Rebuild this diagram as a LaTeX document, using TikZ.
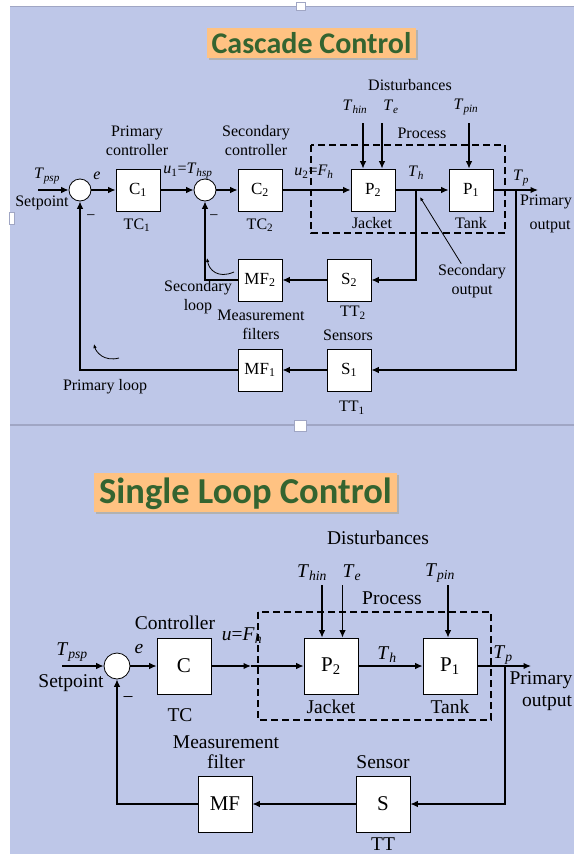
\documentclass[tikz,border=0pt]{standalone}
\usepackage{fontspec}
\usetikzlibrary{arrows.meta}
\setmainfont{Liberation Serif}
\newfontfamily\titlefont{Carlito}
\definecolor{slideblue}{RGB}{190,199,232}
\definecolor{slideline}{RGB}{160,166,196}
\definecolor{titlefill}{RGB}{255,194,130}
\definecolor{titletext}{RGB}{52,100,48}
\newcommand{\sig}[2]{\textit{#1}\textsubscript{\textit{#2}}}
\begin{document}
\begin{tikzpicture}[x=1pt,y=-1pt,>={Latex[length=7.5pt,width=6.5pt]},line width=1.2pt]
\tikzset{BlockStyle/.style = {draw,fill=white,line width=0.8pt,minimum width=44pt,minimum height=42pt,inner sep=0pt,font=\fontsize{17}{20}\selectfont},
  BigBlockStyle/.style = {BlockStyle,minimum width=54pt,minimum height=56pt,font=\fontsize{21}{24}\selectfont},
  SumStyle/.style = {draw,circle,fill=white,line width=0.8pt,minimum size=22pt,inner sep=0pt},
  LabelStyle/.style = {inner sep=0pt,align=center,font=\fontsize{16}{19}\selectfont},
  BigLabelStyle/.style = {inner sep=0pt,align=center,font=\fontsize{19.5}{20}\selectfont},
  DashStyle/.style = {dash pattern=on 7pt off 4pt,line width=2pt},
  HookStyle/.style = {line width=0.8pt,>={Latex[length=4pt,width=3.5pt]}}}
\useasboundingbox (0,0) rectangle (574,854);
% slides
\fill[white] (0,0) rectangle (574,854);
\fill[slideblue] (10,7) rectangle (574,424);
\fill[slideblue] (10,426) rectangle (574,854);
\draw[slideline,line width=1.5pt] (10,6.5) -- (574,6.5);
\draw[slideline,line width=1.5pt] (10,425) -- (574,425);
\filldraw[fill=white,draw=slideline,line width=0.6pt] (296,2) rectangle (305,10);
\filldraw[fill=white,draw=slideline,line width=0.6pt] (294,420) rectangle (306,431);
\filldraw[fill=white,draw=slideline,line width=0.6pt] (9,212) rectangle (14,224);

% cascade control
\fill[black!30] (209,30) rectangle (418,60);
\fill[titlefill] (207,28) rectangle (416,58);
\node[anchor=base,inner sep=0pt,text=titletext,font=\titlefont\bfseries\fontsize{30}{30}\selectfont] (t1) at (311.5,53) {Cascade Control};
\coordinate (in1) at (38,190);
\node[SumStyle] (s1) at (80,190) {};
\node[BlockStyle] (c1) at (138,190) {C\textsubscript{1}};
\node[SumStyle] (s2) at (205,190) {};
\node[BlockStyle] (c2) at (260,190) {C\textsubscript{2}};
\node[BlockStyle] (p2) at (373,190) {P\textsubscript{2}};
\node[BlockStyle] (p1) at (471,190) {P\textsubscript{1}};
\coordinate (th1) at (416,190); \coordinate (bp1) at (516,190); \coordinate (out1) at (538,190);
\node[BlockStyle] (mf2) at (260,280) {MF\textsubscript{2}};
\node[BlockStyle] (se2) at (349,280) {S\textsubscript{2}};
\node[BlockStyle] (mf1) at (260,370) {MF\textsubscript{1}};
\node[BlockStyle] (se1) at (349,370) {S\textsubscript{1}};
\coordinate (d1) at (363,123); \coordinate (d2) at (382,123); \coordinate (d3) at (469,123);
\draw[->] (in1) -- (s1);
\draw[->] (s1) -- (c1);
\draw[->] (c1) -- (s2);
\draw[->] (s2) -- (c2);
\draw[->] (c2) -- (p2);
\draw[->] (p2) -- (p1);
\draw[->] (p1) -- (out1);
\draw[->] (th1) |- (se2);
\draw[->] (se2) -- (mf2);
\draw[->] (mf2) -| (s2);
\draw[->] (bp1) |- (se1);
\draw[->] (se1) -- (mf1);
\draw[->] (mf1) -| (s1);
\draw[->] (d1) -- (d1 |- p2.north);
\draw[->] (d2) -- (d2 |- p2.north);
\draw[->] (d3) -- (d3 |- p1.north);
\draw[DashStyle] (311,145) rectangle (505,233);
\node[LabelStyle] at (410,85) {Disturbances};
\node[LabelStyle] at (355,107) {\sig{T}{hin}};
\node[LabelStyle] at (391,107) {\sig{T}{e}};
\node[LabelStyle] at (466,107) {\sig{T}{pin}};
\node[LabelStyle] at (422,133) {Process};
\node[LabelStyle] at (137,141) {Primary\\controller};
\node[LabelStyle] at (256,141) {Secondary\\controller};
\node[LabelStyle] at (47,176) {\sig{T}{psp}};
\node[LabelStyle] at (97,176) {\textit{e}};
\node[LabelStyle] at (42,203) {Setpoint};
\node[LabelStyle] at (188,171) {\textit{u}\textsubscript{1}=\sig{T}{hsp}};
\node[LabelStyle] at (314,172) {\textit{u}\textsubscript{2}=\sig{F}{h}};
\node[LabelStyle] at (416,173) {\sig{T}{h}};
\node[LabelStyle] at (521,178) {\sig{T}{p}};
\node[LabelStyle] at (546,202) {Primary};
\node[LabelStyle] at (550,227) {output};
\node[LabelStyle] at (372,223) {Jacket};
\node[LabelStyle] at (471,223) {Tank};
\node[LabelStyle] at (137,225) {TC\textsubscript{1}};
\node[LabelStyle] at (260,225) {TC\textsubscript{2}};
\node[LabelStyle] at (91,218) {−};
\node[LabelStyle] at (214,218) {−};
\node[LabelStyle] (so) at (472,281) {Secondary\\output};
\coordinate (th2) at (420,197);
\draw[->,HookStyle] (so) -- (th2);
\node[LabelStyle] at (198,297) {Secondary\\loop};
\node[LabelStyle] at (261,325) {Measurement\\filters};
\node[LabelStyle] at (353,313) {TT\textsubscript{2}};
\node[LabelStyle] at (348,335) {Sensors};
\node[LabelStyle] at (105,387) {Primary loop};
\node[LabelStyle] at (352,408) {TT\textsubscript{1}};
\coordinate (hl1) at (234,272); \coordinate (hl2) at (207,258);
\draw[->,HookStyle] (hl1) .. controls (218,279) and (209,270) .. (hl2);
\coordinate (hl3) at (119,358); \coordinate (hl4) at (94,344);
\draw[->,HookStyle] (hl3) .. controls (104,362) and (96,352) .. (hl4);

% single loop control
\fill[black!30] (96,475) rectangle (399,514);
\fill[titlefill] (94,473) rectangle (397,512);
\node[anchor=base,inner sep=0pt,text=titletext,font=\titlefont\bfseries\fontsize{36.5}{36.5}\selectfont] (t2) at (245.5,503) {Single Loop Control};
\coordinate (in2) at (62,666);
\node[SumStyle,minimum size=26pt] (s3) at (117,666) {};
\node[BigBlockStyle] (c3) at (184,666) {C};
\coordinate (um) at (251,666);
\node[BigBlockStyle] (p4) at (331,666) {P\textsubscript{2}};
\node[BigBlockStyle] (p3) at (450,666) {P\textsubscript{1}};
\coordinate (bp2) at (505,666); \coordinate (out2) at (531,666);
\node[BigBlockStyle] (mf3) at (225,804) {MF};
\node[BigBlockStyle] (se3) at (383,804) {S};
\coordinate (d4) at (322,585); \coordinate (d5) at (342.5,585); \coordinate (d6) at (448,585);
\draw[->] (in2) -- (s3);
\draw[->] (s3) -- (c3);
\draw[->] (c3) -- (um);
\draw[->] (um) -- (p4);
\draw[->] (p4) -- (p3);
\draw[->] (p3) -- (out2);
\draw[->] (bp2) |- (se3);
\draw[->] (se3) -- (mf3);
\draw[->] (mf3) -| (s3);
\draw[->] (d4) -- (d4 |- p4.north);
\draw[->] (d5) -- (d5 |- p4.north);
\draw[->] (d6) -- (d6 |- p3.north);
\draw[DashStyle] (258,612) rectangle (491,720);
\node[BigLabelStyle] at (378,538) {Disturbances};
\node[BigLabelStyle] at (312,573) {\sig{T}{hin}};
\node[BigLabelStyle] at (352,573) {\sig{T}{e}};
\node[BigLabelStyle] at (440,573) {\sig{T}{pin}};
\node[BigLabelStyle] at (392,598) {Process};
\node[BigLabelStyle] at (175,623) {Controller};
\node[BigLabelStyle] at (242,636) {\textit{u}=\sig{F}{h}};
\node[BigLabelStyle] at (72,652) {\sig{T}{psp}};
\node[BigLabelStyle] at (139,649) {\textit{e}};
\node[BigLabelStyle] at (71,683) {Setpoint};
\node[BigLabelStyle] at (387,655) {\sig{T}{h}};
\node[BigLabelStyle] at (503,655) {\sig{T}{p}};
\node[BigLabelStyle] at (331,707) {Jacket};
\node[BigLabelStyle] at (450,707) {Tank};
\node[BigLabelStyle] at (180,715) {TC};
\node[BigLabelStyle] at (128,700) {−};
\node[BigLabelStyle] at (541,680) {Primary};
\node[BigLabelStyle] at (547,703) {output};
\node[BigLabelStyle] at (226,752) {Measurement\\filter};
\node[BigLabelStyle] at (383,762) {Sensor};
\node[BigLabelStyle] at (383,844) {TT};
\end{tikzpicture}
\end{document}
